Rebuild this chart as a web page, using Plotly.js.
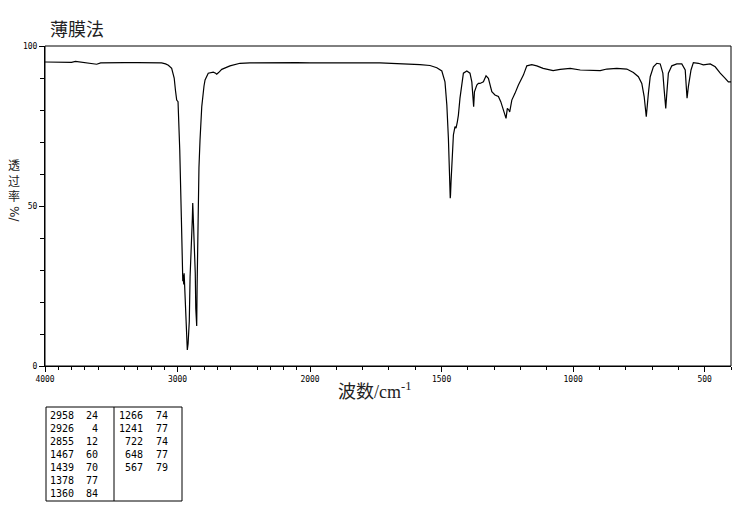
<!DOCTYPE html>
<html>
<head>
<meta charset="utf-8">
<script src="https://cdn.plot.ly/plotly-3.0.1.min.js"></script>
<style>html,body{margin:0;padding:0;background:#fff;}#chart{width:737px;height:510px;}</style>
</head>
<body>
<div id="chart"></div>
<script>
// ---- spectrum (wavenumber / cm-1, transmittance %) ----
const wavenumber = [
 4000,3900,3800,3770,3720,3650,3610,3580,3500,3400,3300,3200,3120,3090,3069,3044,3025,3015,3006,2996,
 2983,2971,2964,2960,2957,2953,2950,2945,2937,2930,2926,2920,2911,2905,2900,2893,2888,2885,2881,2873,
 2866,2862,2858,2855,2852,2845,2838,2830,2817,2800,2792,2768,2730,2712,2704,2690,2666,2604,2528,2453,
 2300,2100,2000,
 1900,1734,1582,1544,1518,1499,1487,1480,1474,1470,1467,1466,1464,1460,1455,1449,1445,1440,1436,1430,
 1423,1417,1404,1392,1385,1381,1378,1375,1366,1360,1354,1341,1331,1322,1316,1309,1297,1284,1275,1266,
 1259,1255,1250,1244,1241,1233,1221,1208,1189,1176,1157,1138,1114,1076,1049,1011,973,948,897,872,
 834,796,771,752,739,730,722,714,707,695,682,669,659,654,648,644,638,625,606,587,
 574,570,567,562,557,552,543,524,505,479,460,441,422,410,400
];
const transmittance = [
 95.0,95.0,94.9,95.2,94.9,94.7,94.3,94.7,94.8,94.8,94.8,94.8,94.7,94.4,94.0,93.0,90.0,86.0,83.1,82.6,
 67.5,46.6,31.0,26.5,28.5,25.5,29.0,23.0,12.0,6.0,5.0,7.0,14.0,28.0,32.0,39.4,46.0,50.9,46.6,39.4,
 29.0,18.0,13.0,12.5,25.0,50.0,62.0,70.6,81.0,87.5,89.4,91.5,91.8,91.5,91.2,91.7,92.7,93.8,94.6,94.7,
 94.8,94.8,94.7,
 94.7,94.7,94.2,93.9,93.2,92.2,88.8,81.6,71.2,60.7,52.4,53.4,57.6,65.9,72.2,74.8,74.3,76.3,78.4,83.7,
 88.8,91.5,92.2,91.5,88.8,83.7,81.0,85.7,87.8,88.3,88.3,88.8,90.7,89.9,87.8,85.7,84.7,84.2,82.6,80.5,
 78.4,77.4,80.5,80.0,79.4,83.1,85.2,87.8,90.9,93.8,94.2,93.8,93.0,92.3,92.7,93.0,92.5,92.5,92.3,92.8,
 93.0,92.8,91.7,90.4,88.3,84.2,77.9,85.2,90.4,93.5,94.6,94.4,91.5,86.3,80.5,85.2,91.5,93.8,94.4,94.4,
 92.5,87.3,83.7,87.3,90.0,92.5,94.8,94.6,94.1,94.4,93.5,91.5,89.9,88.8,88.8
];

// ---- peak table ----
const peakWavenumber = ['2958','2926','2855','1467','1439','1378','1360','1266','1241','722','648','567'];
const peakTransmittance = ['24','4','12','60','70','77','84','74','77','74','77','79'];

// ---- axis ticks ----
const xTicksLeft = [4000,3000,2000];
const xTickTextLeft = ['4000','3000','2000'];
const xLongTicksUnlabelled = [3500,2500];
const xTicksRight = [1500,1000,500];
const xTickTextRight = ['1500','1000','500'];
const yTicks = [0,50,100];
const yTickText = ['0','50','100'];

// ---- geometry helpers ----
const W = 737, H = 510, L = 45, R = 6, T = 46, B = 144;
const PW = W - L - R, PH = H - T - B;
const px = x => (x - L) / PW;
const py = y => (H - B - y) / PH;
const split = 265 / PW;

function range(a, b, s){ const r=[]; for(let v=a; s>0 ? v<=b : v>=b; v+=s) r.push(v); return r; }

const leftX=[], leftY=[], rightX=[], rightY=[];
wavenumber.forEach((w,i)=>{
  if (w >= 2000){ leftX.push(w); leftY.push(transmittance[i]); }
  if (w <= 2000){ rightX.push(w); rightY.push(transmittance[i]); }
});

const lineStyle = {color:'#000', width:1.2};
const traces = [
  {x:leftX, y:leftY, xaxis:'x', yaxis:'y', mode:'lines', line:lineStyle, hoverinfo:'skip'},
  {x:rightX, y:rightY, xaxis:'x2', yaxis:'y', mode:'lines', line:lineStyle, hoverinfo:'skip'}
];

const tickFont = {family:'DejaVu Sans Mono, monospace', size:8, color:'#000'};
const axBase = {
  showgrid:false, zeroline:false, showline:true, linecolor:'#000', linewidth:1,
  ticks:'outside', ticklen:5, tickcolor:'#000', tickwidth:1, tickfont:tickFont, fixedrange:true
};

const annotations = [];
// y-axis title: stacked upright characters, then "%/" turned
annotations.push({xref:'paper', yref:'paper', x:px(14), y:py(180), text:'透<br>过<br>率', showarrow:false,
  xanchor:'center', yanchor:'middle', align:'center',
  font:{family:'Noto Sans CJK SC', size:12, color:'#222'}});
annotations.push({xref:'paper', yref:'paper', x:px(14), y:py(214), text:'%/', textangle:90, showarrow:false,
  xanchor:'center', yanchor:'middle', font:{family:'DejaVu Sans', size:12, color:'#222'}});
// x-axis title
annotations.push({xref:'paper', yref:'paper', x:px(375), y:py(390), text:'波数/cm<sup>-1</sup>', showarrow:false,
  xanchor:'center', yanchor:'middle', font:{family:'Liberation Serif, Noto Sans CJK SC', size:18, color:'#222'}});

// table text
const rowY0 = 415, rowDY = 13;
peakWavenumber.forEach((w,i)=>{
  const col = i < 7 ? 0 : 1;
  const row = i < 7 ? i : i - 7;
  const y = py(rowY0 + row*rowDY);
  const xw = col === 0 ? 76 : 145;
  const xt = col === 0 ? 100 : 170;
  const f = {family:'DejaVu Sans Mono, monospace', size:10, color:'#000'};
  annotations.push({xref:'paper', yref:'paper', x:px(xw), y:y, text:w, showarrow:false, xanchor:'right', yanchor:'middle', font:f});
  annotations.push({xref:'paper', yref:'paper', x:px(xt), y:y, text:peakTransmittance[i], showarrow:false, xanchor:'right', yanchor:'middle', font:f});
});

const shapes = [
  {type:'rect', xref:'paper', yref:'paper', x0:0, x1:1, y0:0, y1:1, line:{color:'#000', width:1}},
  {type:'rect', xref:'paper', yref:'paper', x0:px(46), x1:px(182), y0:py(407), y1:py(501), line:{color:'#000', width:1}},
  {type:'line', xref:'paper', yref:'paper', x0:px(114), x1:px(114), y0:py(407), y1:py(501), line:{color:'#000', width:1}}
];

const layout = {
  width:W, height:H,
  margin:{l:L, r:R, t:T, b:B, pad:0},
  paper_bgcolor:'#fff', plot_bgcolor:'#fff',
  showlegend:false,
  title:{text:'薄膜法', font:{family:'Noto Sans CJK SC', size:18, color:'#222'},
    xref:'paper', x:px(50), xanchor:'left', yref:'container', y:1 - 30/H, yanchor:'middle'},
  xaxis:Object.assign({}, axBase, {domain:[0, split], range:[4000,2000], anchor:'y',
    tickmode:'array', tickvals:xTicksLeft, ticktext:xTickTextLeft,
    minor:{tickmode:'array', tickvals:range(3900,2100,-100).filter(v=>v%500!==0), ticks:'outside', ticklen:3, tickcolor:'#000', showgrid:false}}),
  xaxis3:Object.assign({}, axBase, {domain:[0, split], range:[4000,2000], anchor:'y', overlaying:'x',
    showline:false, showticklabels:false, tickmode:'array', tickvals:xLongTicksUnlabelled}),
  xaxis2:Object.assign({}, axBase, {domain:[split, 1], range:[2000,400], anchor:'y',
    tickmode:'array', tickvals:xTicksRight, ticktext:xTickTextRight,
    minor:{tickmode:'array', tickvals:range(1900,400,-100).filter(v=>v%500!==0), ticks:'outside', ticklen:3, tickcolor:'#000', showgrid:false}}),
  yaxis:Object.assign({}, axBase, {range:[0,100], anchor:'x',
    tickmode:'array', tickvals:yTicks, ticktext:yTickText,
    minor:{tickmode:'array', tickvals:[10,20,30,40,60,70,80,90], ticks:'outside', ticklen:4, tickcolor:'#000', showgrid:false}}),
  annotations:annotations,
  shapes:shapes
};

Plotly.newPlot('chart', traces, layout, {staticPlot:true, displayModeBar:false});
</script>
</body>
</html>
